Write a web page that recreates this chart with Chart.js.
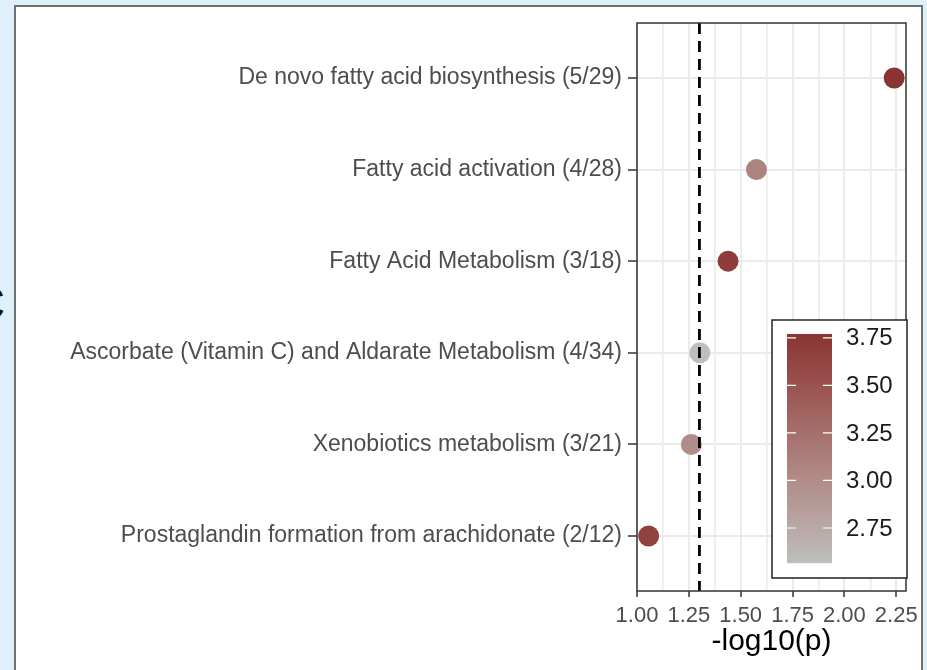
<!DOCTYPE html>
<html>
<head>
<meta charset="utf-8">
<script src="https://cdn.jsdelivr.net/npm/chart.js@4"></script>
<style>
  html, body { margin: 0; padding: 0; }
  body { width: 927px; height: 670px; overflow: hidden; position: relative;
         background: #e0f0fa; font-family: "Liberation Sans", Arial, sans-serif; }
  #tag { position: absolute; left: -30px; top: 276px; font-size: 48px; font-weight: bold; color: #111; }
  #card { position: absolute; left: 14px; top: 5px; width: 905px; height: 700px;
          background: #fff; border: 2px solid #707070; }
  #plot { position: absolute; left: 0; top: 0; }
</style>
</head>
<body>
<div id="tag">C</div>
<div id="card"></div>
<canvas id="plot" width="927" height="670"></canvas>
<script>
const pathways = [
  'De novo fatty acid biosynthesis (5/29)',
  'Fatty acid activation (4/28)',
  'Fatty Acid Metabolism (3/18)',
  'Ascorbate (Vitamin C) and Aldarate Metabolism (4/34)',
  'Xenobiotics metabolism (3/21)',
  'Prostaglandin formation from arachidonate (2/12)'
];
const negLogP = [2.24, 1.576, 1.439, 1.303, 1.262, 1.056];
const score = [3.77, 3.08, 3.69, 2.566, 3.0, 3.65];
const xTicks = [1.00, 1.25, 1.50, 1.75, 2.00, 2.25];
const scoreTicks = [2.75, 3.00, 3.25, 3.50, 3.75];
const cutoff = 1.301; // -log10(0.05)

const FONT = '"Liberation Sans", Arial, sans-serif';
const lowColor = '#bebebe';
const highColor = '#8a3333';
const scoreMin = Math.min(...score);
const scoreMax = Math.max(...score);

// colour ramp in CIELAB, like ggplot's gradient scale
function hexToRgb(h) {
  return [1, 3, 5].map(i => parseInt(h.substr(i, 2), 16));
}
function lin(c) { c /= 255; return c <= 0.04045 ? c / 12.92 : Math.pow((c + 0.055) / 1.055, 2.4); }
function unlin(c) { c = c <= 0.0031308 ? 12.92 * c : 1.055 * Math.pow(c, 1 / 2.4) - 0.055; return Math.round(Math.max(0, Math.min(1, c)) * 255); }
const WP = [0.95047, 1, 1.08883];
function rgbToLab(rgb) {
  const [r, g, b] = rgb.map(lin);
  const xyz = [0.4124 * r + 0.3576 * g + 0.1805 * b, 0.2126 * r + 0.7152 * g + 0.0722 * b, 0.0193 * r + 0.1192 * g + 0.9505 * b];
  const f = xyz.map((v, i) => { v /= WP[i]; return v > 0.008856 ? Math.cbrt(v) : 7.787 * v + 16 / 116; });
  return [116 * f[1] - 16, 500 * (f[0] - f[1]), 200 * (f[1] - f[2])];
}
function labToRgb(lab) {
  const fy = (lab[0] + 16) / 116, fx = fy + lab[1] / 500, fz = fy - lab[2] / 200;
  const [x, y, z] = [fx, fy, fz].map((f, i) => (f ** 3 > 0.008856 ? f ** 3 : (f - 16 / 116) / 7.787) * WP[i]);
  return [3.2406 * x - 1.5372 * y - 0.4986 * z, -0.9689 * x + 1.8758 * y + 0.0415 * z, 0.0557 * x - 0.2040 * y + 1.0570 * z].map(unlin);
}
const labLow = rgbToLab(hexToRgb(lowColor));
const labHigh = rgbToLab(hexToRgb(highColor));
function colorFor(v) {
  const t = Math.max(0, Math.min(1, (v - scoreMin) / (scoreMax - scoreMin)));
  const rgb = labToRgb(labLow.map((l, i) => l + (labHigh[i] - l) * t));
  return 'rgb(' + rgb.join(',') + ')';
}

const points = pathways.map((p, i) => ({ x: negLogP[i], y: i + 1 }));

const panelBox = {
  id: 'panelBox',
  afterDraw(chart) {
    const { ctx, chartArea: a } = chart;
    ctx.save();
    ctx.strokeStyle = '#333333';
    ctx.lineWidth = 1.5;
    ctx.strokeRect(a.left, a.top, a.right - a.left, a.bottom - a.top);
    ctx.restore();
  }
};

const cutoffLine = {
  id: 'cutoffLine',
  afterDatasetsDraw(chart) {
    const { ctx, chartArea: a, scales } = chart;
    const x = scales.x.getPixelForValue(cutoff);
    ctx.save();
    ctx.strokeStyle = '#000';
    ctx.lineWidth = 2.8;
    ctx.setLineDash([11, 7]);
    ctx.beginPath();
    ctx.moveTo(x, a.top);
    ctx.lineTo(x, a.bottom);
    ctx.stroke();
    ctx.restore();
  }
};

const colorBar = {
  id: 'colorBar',
  afterDraw(chart) {
    const { ctx, chartArea: a } = chart;
    const boxW = 135, boxH = 258;
    const bx = a.right - boxW + 1, by = a.top + 297;
    const barX = bx + 15, barW = 45, barY = by + 14, barH = 229;
    ctx.save();
    ctx.fillStyle = '#fff';
    ctx.fillRect(bx, by, boxW, boxH);
    ctx.strokeStyle = '#222';
    ctx.lineWidth = 1.5;
    ctx.strokeRect(bx, by, boxW, boxH);
    for (let k = 0; k < barH; k++) {
      const v = scoreMax - (k + 0.5) / barH * (scoreMax - scoreMin);
      ctx.fillStyle = colorFor(v);
      ctx.fillRect(barX, barY + k, barW, 1.2);
    }
    ctx.strokeStyle = '#fff';
    ctx.lineWidth = 1.2;
    ctx.fillStyle = '#1a1a1a';
    ctx.font = '24px ' + FONT;
    ctx.textBaseline = 'middle';
    scoreTicks.forEach(v => {
      const y = barY + (scoreMax - v) / (scoreMax - scoreMin) * barH;
      ctx.beginPath();
      ctx.moveTo(barX, y); ctx.lineTo(barX + 9, y);
      ctx.moveTo(barX + barW - 9, y); ctx.lineTo(barX + barW, y);
      ctx.stroke();
      ctx.fillText(v.toFixed(2), barX + barW + 14, y + 1);
    });
    ctx.restore();
  }
};

const isMajor = v => xTicks.some(t => Math.abs(t - v) < 1e-6);

new Chart(document.getElementById('plot'), {
  type: 'scatter',
  data: {
    datasets: [{
      data: points,
      pointRadius: 10.5,
      pointHoverRadius: 10.5,
      pointBorderWidth: 0,
      pointBackgroundColor: score.map(colorFor)
    }]
  },
  options: {
    responsive: false,
    animation: false,
    layout: { padding: { left: 0, top: 23, right: 21, bottom: 0 } },
    plugins: { legend: { display: false }, tooltip: { enabled: false } },
    scales: {
      x: {
        type: 'linear',
        min: 1.0,
        max: 2.297,
        afterBuildTicks(scale) {
          // major ticks plus the minor grid halfway between them
          const t = [];
          xTicks.forEach((v, i) => {
            t.push({ value: v });
            if (i < xTicks.length - 1) t.push({ value: (v + xTicks[i + 1]) / 2 });
          });
          scale.ticks = t;
        },
        afterFit(scale) { scale.height = 79; },
        border: { display: false },
        grid: {
          color: '#ebebeb',
          lineWidth: ctx => (ctx.tick && isMajor(ctx.tick.value) ? 2 : 1.6),
          tickColor: ctx => (ctx.tick && isMajor(ctx.tick.value) ? '#333333' : 'rgba(0,0,0,0)'),
          tickLength: 6,
          tickWidth: 1.5
        },
        ticks: {
          autoSkip: false,
          maxRotation: 0,
          padding: 6,
          color: '#4d4d4d',
          font: { family: FONT, size: 22 },
          callback: v => (isMajor(v) ? v.toFixed(2) : '')
        },
        title: {
          display: true,
          text: '-log10(p)',
          color: '#000',
          font: { family: FONT, size: 30 },
          padding: { top: 0, bottom: 10 }
        }
      },
      y: {
        type: 'linear',
        reverse: true,
        min: 0.4,
        max: 6.6,
        afterBuildTicks(scale) {
          scale.ticks = pathways.map((p, i) => ({ value: i + 1 }));
        },
        afterFit(scale) { scale.width = 637; },
        border: { display: false },
        grid: { color: '#ebebeb', lineWidth: 2, tickColor: '#333333', tickLength: 9, tickWidth: 1.5 },
        ticks: {
          autoSkip: false,
          padding: 6,
          color: '#4d4d4d',
          font: { family: FONT, size: 23 },
          callback: v => pathways[Math.round(v) - 1] || ''
        }
      }
    }
  },
  plugins: [panelBox, cutoffLine, colorBar]
});
</script>
</body>
</html>
